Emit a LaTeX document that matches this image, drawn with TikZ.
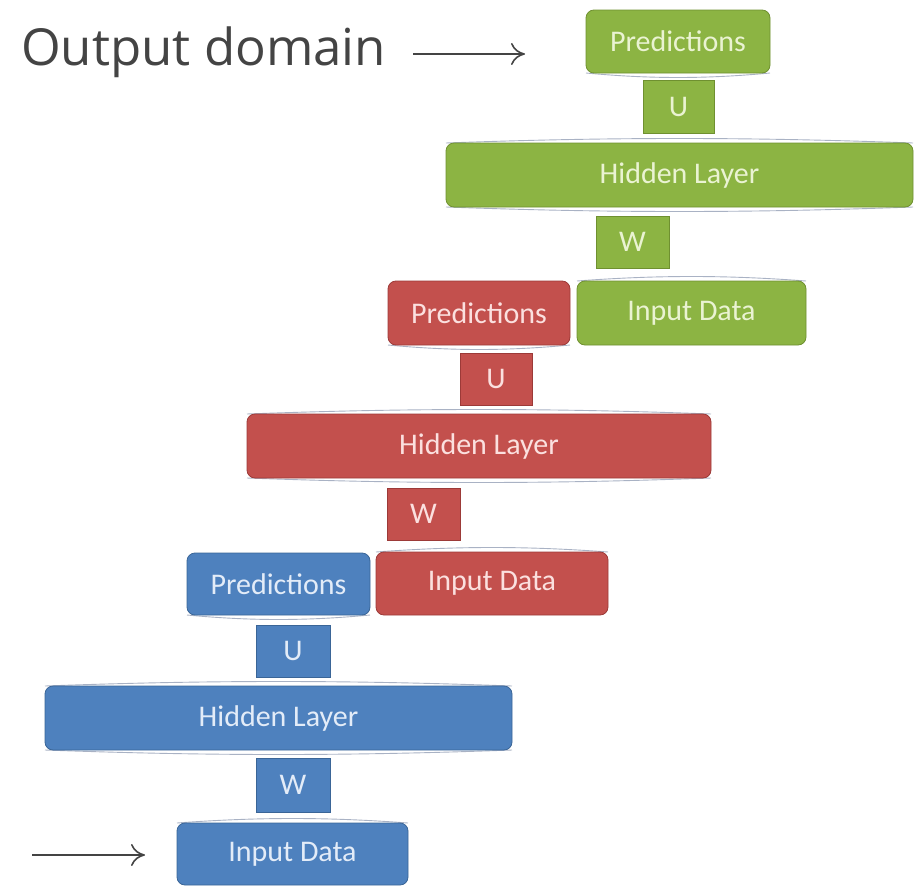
\documentclass[tikz,border=0pt]{standalone}
\usepackage{fontspec}
\setmainfont{Carlito}
\newfontfamily\labelfont{Open Sans}
\usetikzlibrary{arrows.meta}

\definecolor{gfill}{HTML}{8CB443}
\definecolor{gline}{HTML}{6F9030}
\definecolor{gtext}{HTML}{EAF3D2}
\definecolor{rfill}{HTML}{C3504D}
\definecolor{rline}{HTML}{9C3A38}
\definecolor{rtext}{HTML}{FBE0DF}
\definecolor{bfill}{HTML}{4E81BE}
\definecolor{bline}{HTML}{3A6597}
\definecolor{btext}{HTML}{E3ECF8}
\definecolor{ink}{HTML}{444444}
\definecolor{seam}{HTML}{A9B2C4}

\tikzset{
  layer/.style={rounded corners=8pt, inner sep=0pt, line width=0.8pt,
    font=\fontsize{30}{34}\selectfont},
  weight/.style={inner sep=0pt, line width=0.8pt,
    font=\fontsize{30}{34}\selectfont},
  green/.style={fill=gfill, draw=gline, text=gtext},
  red/.style={fill=rfill, draw=rline, text=rtext},
  blue/.style={fill=bfill, draw=bline, text=btext},
  seamline/.style={draw=seam, line width=0.9pt},
  pointer/.style={draw=ink, line width=1.6pt,
    -{To[length=14pt,width=22pt,line width=1.6pt]}},
}

\begin{document}
\begin{tikzpicture}[x=1pt,y=-1pt]
\useasboundingbox (0,0) rectangle (916,886);

% seams between the layer blocks and the weight blocks
\foreach \l/\r/\yy/\d in {
  586/770/73/6, 446/913/143/-6, 446/913/207/6, 577/806/281/-6,
  388/570/345/6, 247/711/414/-6, 247/711/478/6, 376/608/552/-6,
  187/370/615/6, 45/512/686/-6, 45/512/750/6, 177/408/823/-6}
  \draw[seamline] (\l,\yy) .. controls ({\l+0.35*(\r-\l)},\yy+\d) and ({\r-0.35*(\r-\l)},\yy+\d) .. (\r,\yy);

% green (top) network
\node[layer, green, minimum width=184pt, minimum height=63pt] (gP) at (678,41.5) {Predictions};
\node[weight, green, minimum width=71pt, minimum height=53pt] (gU) at (678.5,106.5) {U};
\node[layer, green, minimum width=467pt, minimum height=64pt] (gH) at (679.5,175) {Hidden Layer};
\node[weight, green, minimum width=73pt, minimum height=52pt] (gW) at (632.5,242) {W};
\node[layer, green, minimum width=229pt, minimum height=64pt] (gI) at (691.5,313) {Input Data};

% red (middle) network
\node[layer, red, minimum width=182pt, minimum height=64pt] (rP) at (479,313) {Predictions};
\node[weight, red, minimum width=72pt, minimum height=52pt] (rU) at (496,379) {U};
\node[layer, red, minimum width=464pt, minimum height=64pt] (rH) at (479,446) {Hidden Layer};
\node[weight, red, minimum width=73pt, minimum height=52pt] (rW) at (423.5,514) {W};
\node[layer, red, minimum width=232pt, minimum height=63pt] (rI) at (492,583.5) {Input Data};

% blue (bottom) network
\node[layer, blue, minimum width=183pt, minimum height=62pt] (bP) at (278.5,584) {Predictions};
\node[weight, blue, minimum width=74pt, minimum height=52pt] (bU) at (293,651) {U};
\node[layer, blue, minimum width=467pt, minimum height=64pt] (bH) at (278.5,718) {Hidden Layer};
\node[weight, blue, minimum width=74pt, minimum height=54pt] (bW) at (293,785) {W};
\node[layer, blue, minimum width=231pt, minimum height=62pt] (bI) at (292.5,854) {Input Data};

% labels and pointers
\node[anchor=west, inner sep=0pt, text=ink, font=\labelfont\fontsize{51}{58}\selectfont] (out) at (21,52) {Output domain};
\coordinate (outTip) at (525,54);
\draw[pointer] (out.east |- outTip) ++(27,0) coordinate (outTail) -- (outTip);
\coordinate (inTail) at (32,855);
\coordinate (inTip) at (145,855);
\draw[pointer] (inTail) -- (inTip);
\end{tikzpicture}
\end{document}
